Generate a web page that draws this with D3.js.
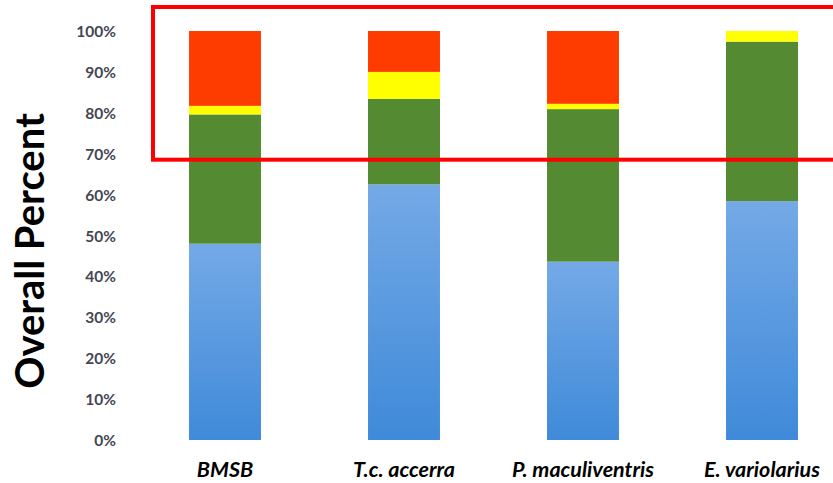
<!DOCTYPE html>
<html>
<head>
<meta charset="utf-8">
<script src="https://cdn.jsdelivr.net/npm/d3@7"></script>
<style>
  html, body { margin: 0; padding: 0; background: #ffffff; }
  svg { display: block; }
</style>
</head>
<body>
<svg id="chart" width="833" height="483"></svg>
<script>
// Species on the x axis
const categories = ["BMSB", "T.c. accerra", "P. maculiventris", "E. variolarius"];
// Percent of each category, stacked bottom to top
const blueShare   = [48.0, 62.5, 43.6, 58.4];
const greenShare  = [31.6, 20.9, 37.3, 39.0];
const yellowShare = [2.1, 6.6, 1.3, 2.6];
const redShare    = [18.3, 10.0, 17.8, 0.0];
// Axis tick values (percent)
const yTicks = [0, 10, 20, 30, 40, 50, 60, 70, 80, 90, 100];

const seriesKeys = ["blue", "green", "yellow", "red"];
const rows = categories.map((c, i) => ({
  category: c,
  blue: blueShare[i],
  green: greenShare[i],
  yellow: yellowShare[i],
  red: redShare[i]
}));

const svg = d3.select("#chart");

const x = d3.scaleBand()
  .domain(categories)
  .range([135.5, 851.5])
  .paddingInner(0.598)
  .paddingOuter(0.299);

const y = d3.scaleLinear()
  .domain([0, 100])
  .range([440, 31]);

// Gradient used for the bottom (blue) segment
const defs = svg.append("defs");
const grad = defs.append("linearGradient")
  .attr("id", "blueGrad")
  .attr("x1", 0).attr("y1", 0).attr("x2", 0).attr("y2", 1);
grad.append("stop").attr("offset", "0%").attr("stop-color", "#74a9e6");
grad.append("stop").attr("offset", "100%").attr("stop-color", "#3f8ad9");

const fills = {
  blue: "url(#blueGrad)",
  green: "#548a31",
  yellow: "#ffff00",
  red: "#ff3c00"
};

const stacked = d3.stack().keys(seriesKeys)(rows);

svg.append("g")
  .selectAll("g")
  .data(stacked)
  .join("g")
  .attr("fill", d => fills[d.key])
  .selectAll("rect")
  .data(d => d)
  .join("rect")
  .attr("x", d => x(d.data.category))
  .attr("width", x.bandwidth())
  .attr("y", d => y(d[1]))
  .attr("height", d => Math.max(0, y(d[0]) - y(d[1])));

// Y axis: labels only
const yAxis = svg.append("g")
  .attr("transform", "translate(116,0)")
  .call(d3.axisLeft(y).tickValues(yTicks).tickFormat(d => d + "%").tickSize(0).tickPadding(0));
yAxis.select(".domain").remove();
yAxis.selectAll("text")
  .attr("fill", "#454552")
  .attr("font-family", "Lato, 'Open Sans', sans-serif")
  .attr("font-weight", "bold")
  .attr("font-size", 15.5)
  .attr("dy", "0.36em");

// X axis: category labels only
const xAxis = svg.append("g")
  .attr("transform", "translate(0,477)")
  .call(d3.axisBottom(x).tickSize(0).tickPadding(0));
xAxis.select(".domain").remove();
xAxis.selectAll("text")
  .attr("fill", "#000000")
  .attr("font-family", "Lato, 'Open Sans', sans-serif")
  .attr("font-weight", "bold")
  .attr("font-style", "italic")
  .attr("font-size", 21.5)
  .attr("dy", "0");

// Y axis title
svg.append("text")
  .attr("transform", "translate(29,251) rotate(-90)")
  .attr("text-anchor", "middle")
  .attr("dominant-baseline", "central")
  .attr("font-family", "Lato, 'Open Sans', sans-serif")
  .attr("font-weight", "bold")
  .attr("font-size", 40)
  .attr("fill", "#000000")
  .text("Overall Percent");

// Highlight box around the upper range
svg.append("rect")
  .attr("x", 153)
  .attr("y", y(100) - 24)
  .attr("width", 700)
  .attr("height", y(70) - y(100) + 30)
  .attr("fill", "none")
  .attr("stroke", "#ff0000")
  .attr("stroke-width", 4);
</script>
</body>
</html>
